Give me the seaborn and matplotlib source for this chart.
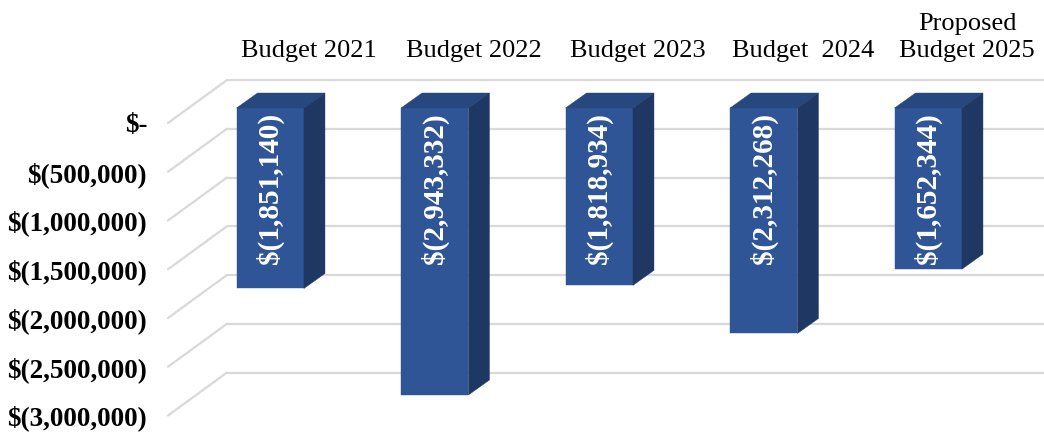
import matplotlib
matplotlib.use("Agg")
import matplotlib.pyplot as plt
from matplotlib.transforms import Affine2D, IdentityTransform
from matplotlib.patches import Polygon
from matplotlib.lines import Line2D
import seaborn as sns
import pandas as pd

categories = ["Budget 2021", "Budget 2022", "Budget 2023", "Budget  2024",
              "Proposed\nBudget 2025"]
values = [-1851140, -2943332, -1818934, -2312268, -1652344]
ticks = [0, -500000, -1000000, -1500000, -2000000, -2500000, -3000000]

FRONT = "#2F5597"
SIDE = "#1F3763"
TOP = "#27487F"
GRID = "#D9D9D9"
SERIF = ["Liberation Serif", "DejaVu Serif"]

sns.set_theme(style="white")
plt.rcParams["font.family"] = SERIF

W, H, DPI = 1044, 433, 100
fig = plt.figure(figsize=(W / DPI, H / DPI), dpi=DPI)
ax = fig.add_axes([168 / W, 1 - 415.5 / H, 822.5 / W, 292.5 / H])
ax.set_xlim(-0.5, 4.5)
ax.set_ylim(-3000000, 0)

# pixel offsets of the 3D depth planes relative to the front plane
bar_front = Affine2D().translate(20, 15)
bar_depth = (21, 15)
wall = Affine2D().translate(59, 43)

df = pd.DataFrame({"category": categories, "value": values})
sns.barplot(data=df, x="category", y="value", ax=ax, color=FRONT,
            saturation=1, width=0.41, zorder=3)

# back wall gridlines and diagonal floor lines
for t in ticks:
    ax.hlines(t, -0.5, 4.5, color=GRID, lw=1.6, transform=ax.transData + wall,
              clip_on=False, zorder=1)
    p0 = ax.transData.transform((-0.5, t))
    p1 = (ax.transData + wall).transform((-0.5, t))
    fig.add_artist(Line2D([p0[0], p1[0]], [p0[1], p1[1]], color=GRID, lw=1.6,
                          transform=IdentityTransform(), zorder=1))

front_tr = ax.transData + bar_front
dx, dy = bar_depth
for patch, v in zip(ax.patches, values):
    patch.set_transform(front_tr)
    patch.set_clip_on(False)
    patch.set_edgecolor(FRONT)
    patch.set_linewidth(0.3)
    x0, w = patch.get_x(), patch.get_width()
    tl = front_tr.transform((x0, 0))
    tr = front_tr.transform((x0 + w, 0))
    br = front_tr.transform((x0 + w, v))
    top = Polygon([tl, tr, (tr[0] + dx, tr[1] + dy), (tl[0] + dx, tl[1] + dy)],
                  closed=True, facecolor=TOP, edgecolor=TOP, lw=0.3,
                  transform=IdentityTransform(), zorder=3)
    side = Polygon([tr, br, (br[0] + dx, br[1] + dy), (tr[0] + dx, tr[1] + dy)],
                   closed=True, facecolor=SIDE, edgecolor=SIDE, lw=0.3,
                   transform=IdentityTransform(), zorder=3)
    fig.add_artist(top)
    fig.add_artist(side)
    label = f"$({abs(v):,})"
    ax.text(x0 + w / 2, 0, label, rotation=90, ha="center", va="top",
            color="white", fontsize=21, fontweight="bold",
            transform=front_tr + Affine2D().translate(0, -5),
            clip_on=False, zorder=5)

# category names above the back wall
for i, name in enumerate(categories):
    ax.text(i, 0, name, ha="center", va="bottom", ma="center",
            fontsize=19, color="black", linespacing=1.3,
            transform=ax.transData + wall + Affine2D().translate(0, 18))

def money(t):
    return "$-" if t == 0 else f"$({abs(int(t)):,})"

ax.set_yticks(ticks)
ax.set_yticklabels([money(t) for t in ticks], fontsize=19.5, fontweight="bold",
                   color="black")
ax.tick_params(axis="y", length=0, pad=15)
ax.set_xticks([])
ax.set_xlabel("")
ax.set_ylabel("")
for s in ax.spines.values():
    s.set_visible(False)
ax.patch.set_alpha(0)

fig.savefig("out.png", dpi=DPI)
